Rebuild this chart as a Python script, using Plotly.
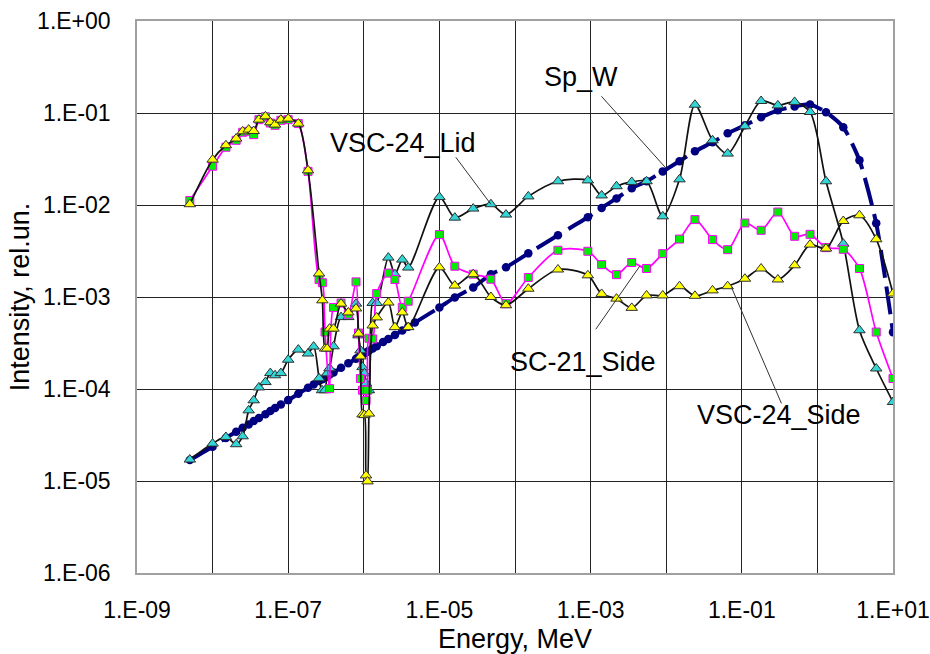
import plotly.graph_objects as go

# ---------------- data ----------------
E_low = [5.0e-9, 1.0e-8, 1.5e-8, 2.05e-8, 2.5e-8, 3.0e-8, 3.5e-8, 4.1e-8, 5.0e-8,
         5.8e-8, 6.7e-8, 8.0e-8, 1.0e-7, 1.36e-7, 1.83e-7]
E_high = [1.0e-5, 1.6e-5, 2.8e-5, 4.8e-5, 7.6e-5, 1.5e-4, 3.7e-4, 9.2e-4, 1.4e-3,
          2.2e-3, 3.5e-3, 5.5e-3, 9.0e-3, 1.5e-2, 2.4e-2, 4.1e-2, 6.5e-2, 0.11,
          0.18, 0.30, 0.50, 0.80, 1.3, 2.2, 3.6, 6.0, 10.0]

# Sp_W
spw_E = E_low + [2.17e-7, 2.56e-7, 2.83e-7, 3.07e-7, 3.27e-7, 3.52e-7, 3.98e-7, 5.0e-7,
                 6.24e-7, 7.89e-7, 8.51e-7, 9.04e-7, 9.62e-7, 1.02e-6, 1.07e-6, 1.12e-6,
                 1.17e-6, 1.31e-6, 1.48e-6, 1.8e-6, 2.11e-6, 2.58e-6, 3.23e-6, 3.87e-6,
                 4.74e-6] + E_high
spw_I = [1.69e-5, 2.36e-5, 2.94e-5, 3.43e-5, 3.79e-5, 4.11e-5, 4.49e-5, 4.84e-5, 5.33e-5,
         5.75e-5, 6.21e-5, 6.8e-5, 7.57e-5, 8.87e-5, 1.03e-4,
         1.12e-4, 1.22e-4, 1.28e-4, 1.33e-4, 1.37e-4, 1.43e-4, 1.51e-4, 1.70e-4,
         1.90e-4, 2.13e-4, 2.22e-4, 2.29e-4, 2.36e-4, 2.43e-4, 2.49e-4, 2.54e-4,
         2.61e-4, 2.75e-4, 2.92e-4, 3.24e-4, 3.49e-4, 3.87e-4, 4.32e-4, 4.74e-4,
         5.27e-4,
         7.7e-4, 9.9e-4, 1.27e-3, 1.77e-3, 2.1e-3, 2.98e-3, 4.69e-3, 7.35e-3, 9.3e-3,
         1.18e-2, 1.52e-2, 1.81e-2, 2.32e-2, 2.99e-2, 3.83e-2, 4.8e-2, 6.01e-2, 7.35e-2,
         8.98e-2, 0.107, 0.118, 0.124, 0.102, 0.070, 3.06e-2, 6.32e-3, 4.13e-4]

# VSC-24_Lid
lid_E = E_low + [2.17e-7, 2.56e-7, 2.8e-7, 3.07e-7, 3.27e-7, 3.52e-7, 3.98e-7, 5.0e-7,
                 6.24e-7, 7.89e-7, 8.51e-7, 9.04e-7, 9.62e-7, 1.02e-6, 1.07e-6, 1.12e-6,
                 1.17e-6, 1.31e-6, 1.48e-6, 2.11e-6, 2.58e-6, 3.23e-6, 3.87e-6] + E_high
lid_I = [1.71e-5, 2.55e-5, 3.01e-5, 2.51e-5, 3.06e-5, 5.86e-5, 7.53e-5, 1.04e-4, 1.19e-4,
         1.49e-4, 1.41e-4, 1.49e-4, 2.08e-4, 2.68e-4, 2.43e-4,
         2.89e-4, 1.31e-4, 9.7e-5, 9.7e-5, 1.48e-4, 1.68e-4, 2.91e-4, 6.05e-4,
         6.05e-4, 8.47e-4, 3.83e-4, 2.63e-4, 1.73e-4, 1.48e-4, 1.15e-4, 9.7e-5,
         9.7e-5, 8.6e-4, 8.6e-4, 2.68e-3, 1.77e-3, 2.55e-3, 2.09e-3,
         1.22e-2, 7.29e-3, 9.14e-3, 1.02e-2, 7.87e-3, 1.24e-2, 1.81e-2, 1.85e-2, 1.27e-2,
         1.60e-2, 1.78e-2, 1.81e-2, 7.53e-3, 1.90e-2, 0.123, 5.05e-2, 3.62e-2, 7.17e-2,
         0.135, 0.121, 0.132, 0.1025, 1.81e-2, 3.80e-3, 4.35e-4, 1.67e-4, 7.22e-5]

# SC-21_Side
sc_E = E_low + [2.56e-7, 2.83e-7, 3.07e-7, 3.52e-7, 3.98e-7, 5.0e-7, 6.24e-7, 7.89e-7,
                8.51e-7, 9.04e-7, 9.62e-7, 1.02e-6, 1.07e-6, 1.12e-6, 1.17e-6, 1.31e-6,
                1.48e-6, 2.11e-6, 2.58e-6, 3.23e-6, 3.87e-6] + E_high
sc_I = [1.12e-2, 2.64e-2, 4.24e-2, 5.05e-2, 6.17e-2, 6.32e-2, 5.82e-2, 8.47e-2, 9.1e-2,
        7.78e-2, 7.35e-2, 8.33e-2, 8.47e-2, 7.67e-2, 2.32e-2,
        1.55e-3, 1.43e-3, 4.16e-4, 1.01e-4, 7.7e-4, 8.6e-4, 6.5e-4, 1.46e-3,
        4.06e-4, 1.3e-4, 9.7e-5, 9.7e-5, 7.5e-5, 9.7e-5, 3.56e-4, 3.5e-4,
        1.09e-3, 1.82e-3, 1.55e-3, 7.7e-4, 9.0e-4,
        4.77e-3, 2.16e-3, 1.77e-3, 1.56e-3, 8.47e-4, 1.63e-3, 3.22e-3, 3.14e-3, 2.25e-3,
        1.75e-3, 2.37e-3, 2.04e-3, 2.96e-3, 4.26e-3, 6.94e-3, 4.21e-3, 3.27e-3, 6.37e-3,
        5.31e-3, 8.39e-3, 4.57e-3, 4.80e-3, 3.44e-3, 3.30e-3, 2.04e-3, 4.16e-4, 1.30e-4]

# VSC-24_Side
side_E = E_low + [2.56e-7, 2.83e-7, 3.07e-7, 3.27e-7, 3.52e-7, 3.98e-7, 5.0e-7, 6.24e-7,
                  7.89e-7, 8.51e-7, 9.04e-7, 9.62e-7, 1.02e-6, 1.07e-6, 1.12e-6, 1.17e-6,
                  1.31e-6, 1.48e-6, 2.11e-6, 2.58e-6, 3.23e-6, 3.87e-6] + E_high
side_I = [1.02e-2, 3.11e-2, 4.46e-2, 5.27e-2, 6.32e-2, 6.6e-2, 6.37e-2, 8.47e-2, 9.2e-2,
          7.92e-2, 7.48e-2, 8.47e-2, 8.69e-2, 7.67e-2, 2.38e-2,
          1.80e-3, 9.2e-4, 2.75e-4, 2.75e-4, 4.53e-4, 4.53e-4, 8.47e-4, 6.8e-4,
          7.5e-4, 4.0e-4, 2.26e-4, 5.3e-5, 5.2e-5, 1.15e-5, 9.9e-6, 5.4e-5,
          4.9e-4, 6.0e-4, 8.7e-4, 4.7e-4, 6.8e-4, 4.7e-4,
          2.10e-3, 1.33e-3, 1.77e-3, 1.00e-3, 8.13e-4, 1.23e-3, 1.99e-3, 1.72e-3, 1.08e-3,
          9.60e-4, 7.62e-4, 1.04e-3, 1.04e-3, 1.31e-3, 1.03e-3, 1.18e-3, 1.31e-3, 1.58e-3,
          2.04e-3, 1.55e-3, 2.21e-3, 3.71e-3, 3.36e-3, 6.70e-3, 7.73e-3, 4.24e-3, 1.09e-3]

x_tickvals = [1e-9, 1e-8, 1e-7, 1e-6, 1e-5, 1e-4, 1e-3, 1e-2, 1e-1, 1e0, 1e1]
x_ticktext = ["1.E-09", "", "1.E-07", "", "1.E-05", "", "1.E-03", "", "1.E-01", "", "1.E+01"]
y_tickvals = [1e-6, 1e-5, 1e-4, 1e-3, 1e-2, 1e-1, 1e0]
y_ticktext = ["1.E-06", "1.E-05", "1.E-04", "1.E-03", "1.E-02", "1.E-01", "1.E+00"]

FONT = "Liberation Sans, Arial, sans-serif"

fig = go.Figure()
fig.add_trace(go.Scatter(
    x=spw_E, y=spw_I, name="Sp_W", mode="lines+markers",
    line=dict(color="#000080", width=4, dash="28px,9px", shape="spline", smoothing=0.6),
    marker=dict(symbol="circle", size=8.5, color="#000080")))
fig.add_trace(go.Scatter(
    x=lid_E, y=lid_I, name="VSC-24_Lid", mode="lines+markers",
    line=dict(color="#111111", width=1.7, shape="spline", smoothing=0.8),
    marker=dict(symbol="triangle-up", size=10, color="#33D6D6",
                line=dict(color="#303030", width=1))))
fig.add_trace(go.Scatter(
    x=sc_E, y=sc_I, name="SC-21_Side", mode="lines+markers",
    line=dict(color="#FF00FF", width=1.7, shape="spline", smoothing=0.8),
    marker=dict(symbol="square", size=8, color="#00EE00",
                line=dict(color="#FF00FF", width=1))))
fig.add_trace(go.Scatter(
    x=side_E, y=side_I, name="VSC-24_Side", mode="lines+markers",
    line=dict(color="#111111", width=1.7, shape="spline", smoothing=0.8),
    marker=dict(symbol="triangle-up", size=10, color="#FFFF00",
                line=dict(color="#303030", width=1))))

# labels with leader lines
labels = [
    ("Sp_W", -3.131, -0.612, (1.39e-3, 0.152), (1.0e-2, 2.5e-2)),
    ("VSC-24_Lid", -5.482, -1.329, (1.65e-5, 3.3e-2), (4.79e-5, 1.02e-2)),
    ("SC-21_Side", -3.104, -3.710, (1.17e-3, 4.46e-4), (4.46e-3, 2.16e-3)),
    ("VSC-24_Side", -0.502, -4.286, (0.334, 6.99e-5), (7.31e-2, 1.27e-3)),
]
for txt, ax_, ay_, p0, p1 in labels:
    fig.add_annotation(x=ax_, y=ay_, xref="x", yref="y", text=txt, showarrow=False,
                       font=dict(family=FONT, size=27, color="#000000"))
    fig.add_shape(type="line", xref="x", yref="y", x0=p0[0], y0=p0[1], x1=p1[0], y1=p1[1],
                  line=dict(color="#333333", width=1))

fig.update_layout(
    width=930, height=654,
    margin=dict(l=137, r=37, t=21, b=81, autoexpand=False),
    paper_bgcolor="white", plot_bgcolor="white",
    showlegend=False,
    font=dict(family=FONT, color="#000000"),
)
fig.update_xaxes(
    type="log", range=[-9, 1], tickmode="array", tickvals=x_tickvals, ticktext=x_ticktext,
    showgrid=True, gridcolor="#222222", gridwidth=1,
    showline=True, linecolor="#a0a0a0", linewidth=1.5, mirror=True,
    ticks="", ticklabelstandoff=16, tickfont=dict(size=23, family=FONT),
    title=dict(text="Energy, MeV", font=dict(size=27, family=FONT), standoff=8),
    zeroline=False, automargin=False,
)
fig.update_yaxes(
    type="log", range=[-6, 0], tickmode="array", tickvals=y_tickvals, ticktext=y_ticktext,
    showgrid=True, gridcolor="#222222", gridwidth=1,
    showline=True, linecolor="#a0a0a0", linewidth=1.5, mirror=True,
    ticks="", ticklabelstandoff=20, tickfont=dict(size=23, family=FONT),
    title=dict(text="Intensity, rel.un.", font=dict(size=27, family=FONT), standoff=0),
    zeroline=False, automargin=False,
)

# remove the page's default body margin so the figure fills the window exactly
fig.write_html("out.html", config={"displayModeBar": False},
               post_script="document.body.style.margin='0';document.body.style.overflow='hidden';")
